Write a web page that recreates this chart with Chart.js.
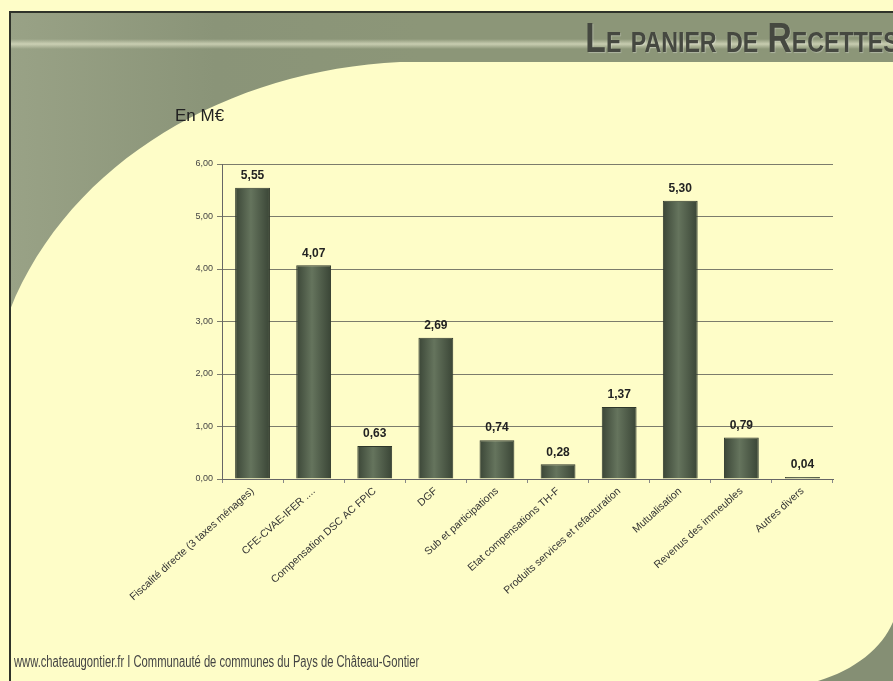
<!DOCTYPE html>
<html>
<head>
    <title>Le panier de Recettes</title>
    <script src="https://cdn.jsdelivr.net/npm/chart.js"></script>
    <style>
        html, body {
            margin: 0;
            padding: 0;
            background: #fefdc8;
            overflow: hidden;
        }
        .slide {
            position: relative;
            width: 893px;
            height: 681px;
        }
        #recettesChart {
            position: absolute;
            left: 0;
            top: 0;
        }
        .title {
            position: absolute;
            right: -6px;
            top: 14px;
            font-family: "Liberation Sans", Arial, sans-serif;
            font-weight: bold;
            font-variant: small-caps;
            font-size: 42px;
            color: #454840;
            white-space: nowrap;
            transform: scaleX(0.8);
            transform-origin: right top;
            text-shadow: 1px 1px 1px rgba(255,255,255,0.3);
        }
        .unit {
            position: absolute;
            left: 175px;
            top: 106px;
            font-family: "Liberation Sans", Arial, sans-serif;
            font-size: 17px;
            color: #222;
        }
        .footer {
            position: absolute;
            left: 14px;
            top: 653px;
            font-family: "Liberation Sans", Arial, sans-serif;
            font-size: 16px;
            color: #444;
            white-space: nowrap;
            transform: scaleX(0.7);
            transform-origin: left top;
        }
    </style>
</head>
<body>
    <div class="slide">
        <canvas id="recettesChart" width="893" height="681"></canvas>
        <div class="title">Le panier de Recettes</div>
        <div class="unit">En M€</div>
        <div class="footer">www.chateaugontier.fr I Communauté de communes du Pays de Château-Gontier</div>
    </div>

    <script>
        const categories = [
            'Fiscalité directe (3 taxes ménages)',
            'CFE-CVAE-IFER ....',
            'Compensation DSC AC FPIC',
            'DGF',
            'Sub et participations',
            'Etat compensations TH-F',
            'Produits services et refacturation',
            'Mutualisation',
            'Revenus des immeubles',
            'Autres divers'
        ];
        const recettes = [5.55, 4.07, 0.63, 2.69, 0.74, 0.28, 1.37, 5.30, 0.79, 0.04];
        const yTicks = [0, 1, 2, 3, 4, 5, 6];

        const sans = '"Liberation Sans", Arial, sans-serif';

        function frFormat(v) {
            return v.toFixed(2).replace('.', ',');
        }

        // slide decoration behind the chart
        const slideBackground = {
            id: 'slideBackground',
            beforeDraw(chart) {
                const c = chart.ctx;
                const W = chart.width, H = chart.height;
                c.save();
                c.fillStyle = '#fefdc8';
                c.fillRect(0, 0, W, H);

                // grey-green band + left curved panel
                const g = c.createLinearGradient(10, 0, 420, 0);
                g.addColorStop(0, '#99a286');
                g.addColorStop(0.5, '#8a9478');
                g.addColorStop(1, '#8c9678');
                c.fillStyle = g;
                c.beginPath();
                c.moveTo(10, 12);
                c.lineTo(W, 12);
                c.lineTo(W, 62);
                c.lineTo(400, 62);
                c.bezierCurveTo(230, 70, 70, 160, 10, 310);
                c.closePath();
                c.fill();

                // light streak in the band
                const s = c.createLinearGradient(0, 39, 0, 49);
                s.addColorStop(0, 'rgba(225,228,200,0)');
                s.addColorStop(0.5, 'rgba(225,228,200,0.7)');
                s.addColorStop(1, 'rgba(225,228,200,0)');
                c.fillStyle = s;
                c.fillRect(10, 39, W - 10, 10);

                // bottom right corner
                c.fillStyle = '#858f74';
                c.beginPath();
                c.moveTo(W, 622);
                c.bezierCurveTo(882, 648, 855, 670, 818, H);
                c.lineTo(W, H);
                c.closePath();
                c.fill();

                // frame lines
                c.strokeStyle = '#2f332a';
                c.lineWidth = 2;
                c.beginPath();
                c.moveTo(10, H);
                c.lineTo(10, 12);
                c.lineTo(W, 12);
                c.stroke();
                c.restore();
            }
        };

        // value labels above each bar
        const valueLabels = {
            id: 'valueLabels',
            afterDatasetsDraw(chart) {
                const c = chart.ctx;
                const meta = chart.getDatasetMeta(0);
                c.save();
                c.font = 'bold 12px ' + sans;
                c.fillStyle = '#222';
                c.textAlign = 'center';
                c.textBaseline = 'bottom';
                meta.data.forEach((bar, i) => {
                    c.fillText(frFormat(recettes[i]), bar.x, bar.y - 6);
                });
                c.restore();
            }
        };

        function barFill(context) {
            const chart = context.chart;
            const x = chart.scales.x;
            if (!x || !chart.chartArea) return '#56644f';
            const cx = x.getPixelForValue(context.dataIndex);
            const half = (x.width / categories.length) * 0.57 / 2;
            const g = chart.ctx.createLinearGradient(cx - half, 0, cx + half, 0);
            g.addColorStop(0, '#3b4637');
            g.addColorStop(0.45, '#65745d');
            g.addColorStop(1, '#3a4536');
            return g;
        }

        const ctx = document.getElementById('recettesChart').getContext('2d');
        new Chart(ctx, {
            type: 'bar',
            data: {
                labels: categories,
                datasets: [{
                    data: recettes,
                    backgroundColor: barFill,
                    borderColor: '#2e372b',
                    borderWidth: 1,
                    barPercentage: 0.57,
                    categoryPercentage: 1
                }]
            },
            plugins: [slideBackground, valueLabels],
            options: {
                responsive: false,
                animation: false,
                layout: {
                    padding: { left: 0, right: 60, top: 164, bottom: 0 }
                },
                plugins: {
                    legend: { display: false },
                    tooltip: { enabled: false }
                },
                scales: {
                    y: {
                        min: 0,
                        max: 6,
                        afterBuildTicks: axis => {
                            axis.ticks = yTicks.map(v => ({ value: v }));
                        },
                        afterFit: axis => { axis.width = 222; },
                        ticks: {
                            callback: v => frFormat(v),
                            font: { family: sans, size: 9 },
                            color: '#444',
                            padding: 4
                        },
                        grid: {
                            color: '#7c7c6c',
                            tickLength: 5,
                            lineWidth: 1
                        },
                        border: { color: '#666', width: 1 }
                    },
                    x: {
                        afterFit: axis => { axis.height = 202; },
                        ticks: {
                            autoSkip: false,
                            maxRotation: 42,
                            minRotation: 42,
                            font: { family: sans, size: 10.5 },
                            color: '#333',
                            padding: 2
                        },
                        grid: {
                            drawOnChartArea: false,
                            tickLength: 4,
                            color: '#888'
                        },
                        border: { color: '#666', width: 1 }
                    }
                }
            }
        });
    </script>
</body>
</html>
